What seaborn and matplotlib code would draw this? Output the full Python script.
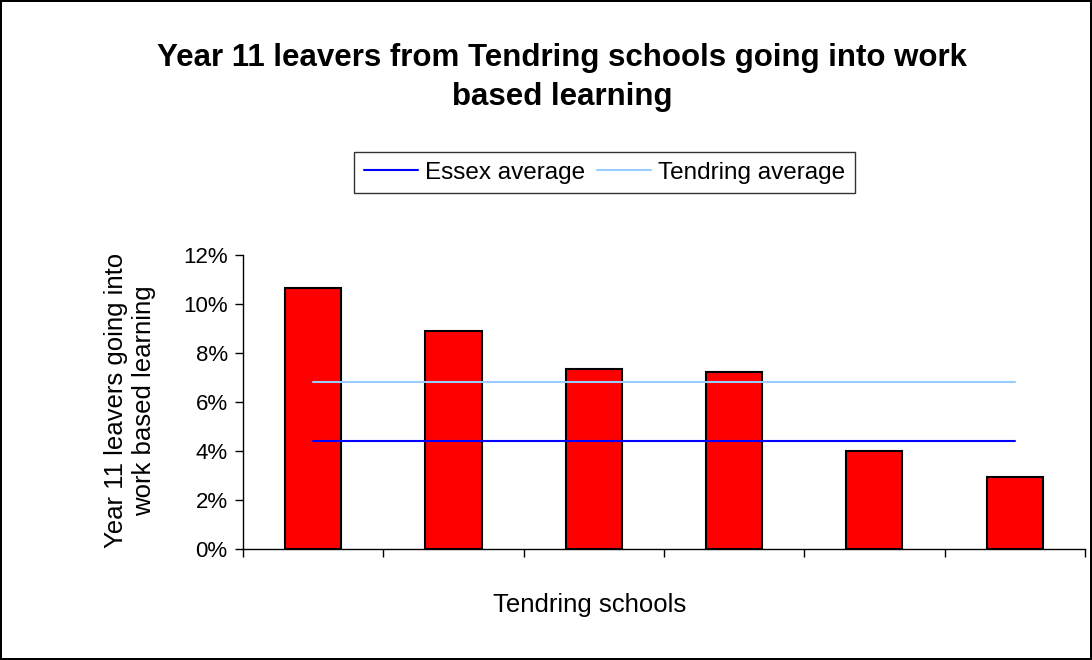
import matplotlib.pyplot as plt
import seaborn as sns
import pandas as pd
from matplotlib.ticker import FuncFormatter, FixedLocator

schools = ['School A', 'School B', 'School C', 'School D', 'School E', 'School F']
work_based = [0.1067, 0.0890, 0.0735, 0.0723, 0.0400, 0.0293]
essex_avg = 0.0441
tendring_avg = 0.0683
y_ticks = [0, 0.02, 0.04, 0.06, 0.08, 0.10, 0.12]

df = pd.DataFrame({'School': schools, 'Share': work_based})

sns.set_theme(style="white")
plt.rcParams['font.family'] = ['Liberation Sans', 'DejaVu Sans']

fig = plt.figure(figsize=(10.92, 6.6), dpi=100, linewidth=1.5, edgecolor='black')
ax = fig.add_axes([0.2225, 0.168, 0.771, 0.4455])

sns.barplot(data=df, x='School', y='Share', color='#FF0000', width=0.4,
            edgecolor='black', linewidth=1.5, saturation=1, ax=ax)

xs = list(range(len(schools)))
ax.plot(xs[::len(xs) - 1], [essex_avg] * 2, color='#0000FF', lw=1.5, label='Essex average')
ax.plot(xs[::len(xs) - 1], [tendring_avg] * 2, color='#99CCFF', lw=1.5, label='Tendring average')

ax.set_xlim(-0.5, len(schools) - 0.5)
ax.set_ylim(0, 0.12)
ax.xaxis.set_major_locator(FixedLocator([i - 0.5 for i in range(len(schools) + 1)]))
ax.set_xticklabels([])
ax.set_yticks(y_ticks)
ax.yaxis.set_major_formatter(FuncFormatter(lambda v, p: f'{v * 100:.0f}%'))
ax.tick_params(axis='both', direction='out', length=6, width=1, color='black',
               labelsize=16, labelcolor='black', bottom=True, left=True, pad=5)

for side in ['top', 'right']:
    ax.spines[side].set_visible(False)
for side in ['left', 'bottom']:
    ax.spines[side].set_color('black')
    ax.spines[side].set_linewidth(1)

ax.set_xlabel('Tendring schools', fontsize=18.5, color='black')
ax.xaxis.set_label_coords(0.412, -0.19)
ax.xaxis.label.set_va('center')
ax.set_ylabel('Year 11 leavers going into\nwork based learning', fontsize=18.5,
              color='black', linespacing=1.2)
ax.yaxis.set_label_coords(-0.134, 0.505)
ax.yaxis.label.set_va('center')

fig.suptitle('Year 11 leavers from Tendring schools going into work\nbased learning',
             fontsize=22.5, fontweight='bold', color='black', x=0.515, y=0.882,
             va='center', linespacing=1.4)

leg = fig.legend(loc='center', bbox_to_anchor=(0.5536, 0.7386), ncol=2, fontsize=17.5,
                 frameon=True, fancybox=False, edgecolor='black', handlelength=2.2,
                 handletextpad=0.3, columnspacing=0.5, borderpad=0.4, labelcolor='black')
leg.get_frame().set_linewidth(1)

fig.savefig('out.png', dpi=100, edgecolor=fig.get_edgecolor())
